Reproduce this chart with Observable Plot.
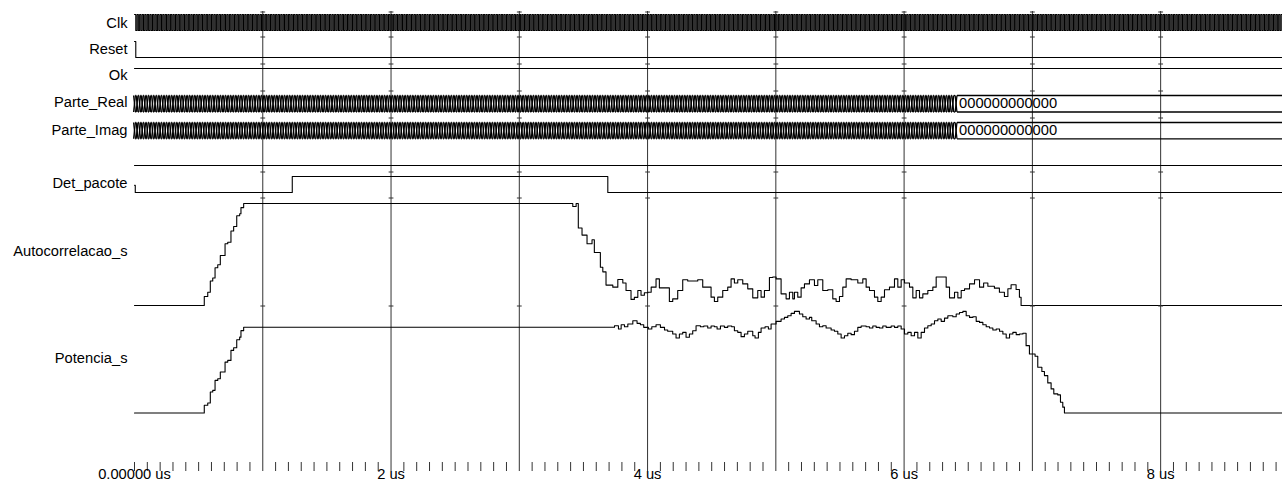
<!DOCTYPE html>
<html><head><meta charset="utf-8">
<script src="https://cdn.jsdelivr.net/npm/d3@7"></script>
<script src="https://cdn.jsdelivr.net/npm/@observablehq/plot@0.6"></script>
<style>
html,body{margin:0;padding:0;background:#fff;}
#chart{width:1282px;height:485px;overflow:hidden;background:#fff;}
#chart svg{display:block;overflow:visible;}
</style></head><body><div id="chart"></div>
<script>
// ---------- data (times in microseconds) ----------
const timeEnd = 8.95;
const gridTimes = [1, 2, 3, 4, 5, 6, 7, 8];
const axisLabelTimes = [0, 2, 4, 6, 8];
const axisLabels = ["0.00000 us", "2 us", "4 us", "6 us", "8 us"];
const minorTickStep = 0.1;

const clockPeriod = 0.02;
const resetT = [0, 0.01], resetV = [1, 0];
const okT = [0], okV = [1];
const unnamedT = [0], unnamedV = [0];
const busPeriod = 0.02, busSettleTime = 6.405, busFinalValue = "000000000000";
const detT = [0, 0.006, 1.23, 3.69], detV = [0.45, 0, 1, 0];

const autoT = [0, 0.544, 0.571, 0.591, 0.610, 0.628, 0.649, 0.669, 0.706, 0.727, 0.752, 0.773, 0.797, 0.820, 0.830, 0.851,
  3.417, 3.443, 3.460, 3.489, 3.528, 3.567, 3.585, 3.632, 3.651, 3.676, 3.729, 3.768, 3.807, 3.832, 3.871, 3.897, 3.924, 3.949, 3.975,
  4.002, 4.028, 4.066, 4.092, 4.170, 4.196, 4.235, 4.274, 4.313, 4.391, 4.430, 4.495, 4.521, 4.547, 4.586, 4.625, 4.651, 4.677, 4.703, 4.742,
  4.781, 4.820, 4.859, 4.885, 4.911, 4.950, 4.976, 5.002, 5.041, 5.080, 5.106, 5.132, 5.145, 5.171, 5.197, 5.223, 5.262, 5.301, 5.327, 5.366,
  5.405, 5.444, 5.470, 5.496, 5.522, 5.548, 5.587, 5.639, 5.678, 5.704, 5.730, 5.769, 5.795, 5.821, 5.847, 5.886, 5.925, 5.951, 5.977, 6.003,
  6.042, 6.068, 6.094, 6.120, 6.146, 6.185, 6.224, 6.250, 6.328, 6.354, 6.393, 6.419, 6.445, 6.471, 6.510, 6.549, 6.588, 6.620, 6.653, 6.704,
  6.743, 6.782, 6.809, 6.834, 6.873, 6.899, 6.912];
const autoV = [0, 8.8, 13, 24, 27, 37, 40, 49, 60.5, 62, 73, 77.5, 88, 90, 96, 100,
  97, 100, 76, 69, 60.5, 64.4, 52, 37.5, 33, 20, 18, 25.5, 22, 14.7, 6, 8, 14.7, 10, 12.5,
  13, 18, 26.1, 17.3, 3.9, 6.5, 14.7, 25.2, 24, 25.2, 18, 8.2, 3.9, 8.2, 14.7, 18, 26.1, 22, 25.2, 21.2,
  16.3, 7.5, 14.7, 8.2, 14.7, 27.5, 28, 26.1, 11.4, 6.5, 13, 6.5, 13, 8.2, 17.3, 21.2, 25.2, 19.6, 25.2, 14.7,
  15.4, 6.5, 3.9, 8.8, 18, 26.1, 25.2, 22, 26.1, 18, 14.7, 8.2, 3.9, 8.2, 15.4, 18, 26.1, 18, 25.2, 22,
  18, 7.5, 14.7, 7.5, 11.4, 14.7, 18, 28, 18, 7.5, 13, 7.5, 14.7, 16.3, 21.2, 25.2, 18, 22, 18.9, 17,
  13, 8.8, 16.4, 20.3, 15.7, 8.1, 0];

const potT = [0, 0.544, 0.571, 0.591, 0.610, 0.628, 0.649, 0.669, 0.706, 0.727, 0.752, 0.773, 0.797, 0.820, 0.830, 0.851,
  3.742, 3.773, 3.794, 3.820, 3.846, 3.885, 3.918, 3.944, 3.970, 4.006, 4.033, 4.066, 4.100, 4.132, 4.157, 4.196, 4.222, 4.248, 4.274, 4.300,
  4.326, 4.352, 4.378, 4.412, 4.438, 4.469, 4.495, 4.521, 4.542, 4.568, 4.599, 4.625, 4.656, 4.677, 4.703, 4.729, 4.755, 4.781, 4.820, 4.838,
  4.864, 4.885, 4.916, 4.942, 4.963, 5.002, 5.041, 5.067, 5.093, 5.119, 5.145, 5.184, 5.210, 5.236, 5.262, 5.280, 5.314, 5.340, 5.366, 5.392,
  5.431, 5.457, 5.483, 5.509, 5.535, 5.561, 5.587, 5.613, 5.639, 5.665, 5.704, 5.730, 5.756, 5.782, 5.808, 5.834, 5.860, 5.899, 5.925, 5.951,
  5.977, 6.003, 6.029, 6.055, 6.081, 6.107, 6.133, 6.159, 6.185, 6.211, 6.237, 6.263, 6.289, 6.315, 6.341, 6.380, 6.406, 6.432, 6.458, 6.484,
  6.510, 6.536, 6.562, 6.588, 6.614, 6.640, 6.666, 6.692, 6.718, 6.744, 6.770, 6.796, 6.822, 6.848, 6.874, 6.900, 6.926, 6.951, 6.977, 7.021,
  7.042, 7.074, 7.094, 7.120, 7.146, 7.167, 7.198, 7.219, 7.237, 7.250];
const potV = [0, 9, 11.6, 24.4, 26.4, 38, 40, 47.7, 59.3, 61.3, 73, 76, 85.3, 88.4, 96, 100,
  101.7, 97.9, 102.9, 100.6, 103.7, 107.6, 104.5, 102.9, 99.8, 97.9, 100.6, 102.9, 99.8, 96.7, 95.2, 92.1, 87.4, 92.1, 94.0, 88.2,
  92.1, 95.9, 101.7, 100.6, 101.4, 99.0, 101.4, 100.6, 97.9, 101.4, 99.8, 101.4, 100.6, 95.9, 94.0, 89.0, 92.1, 95.2, 90.1, 87.4,
  94.0, 99.0, 100.6, 97.9, 103.7, 106.8, 109.5, 111.4, 113.4, 116.1, 118.4, 115.3, 112.2, 109.5, 111.4, 107.6, 103.7, 100.6, 101.7, 99.0,
  96.7, 95.2, 92.1, 87.4, 90.1, 92.9, 91.3, 95.2, 99.8, 101.4, 100.6, 99.0, 101.4, 99.8, 99.0, 101.4, 99.8, 101.4, 99.8, 101.4,
  97.9, 92.1, 94.0, 90.1, 94.0, 87.4, 94.0, 99.0, 101.7, 103.7, 107.6, 109.5, 106.8, 110.6, 113.4, 112.2, 115.3, 117.2, 118.4, 113.4,
  111.4, 112.2, 106.8, 105.6, 102.9, 100.6, 99.0, 96.7, 97.9, 95.2, 92.1, 87.4, 92.1, 94.0, 91.3, 92.1, 92.9, 78.5, 68.8, 66.1,
  53.3, 48.3, 43.6, 35.1, 28.1, 22.3, 21.1, 12.6, 6.8, 0];

// ---------- helpers ----------
function steps(T, V) {
  const pts = T.map((t, i) => ({t, v: V[i]}));
  pts.push({t: timeEnd, v: V[V.length - 1]});
  return pts;
}
const clockData = d3.range(0, timeEnd, clockPeriod / 2).map((t, i) => ({t, v: i % 2 === 0 ? 1 : 0}));
clockData.push({t: timeEnd, v: clockData[clockData.length - 1].v});

const busHalf = 0.007;
function busSegments() {
  const trans = d3.range(0, busSettleTime - busPeriod / 2, busPeriod).concat([busSettleTime]);
  const segs = [];
  trans.forEach((t, i) => {
    segs.push({x1: t - busHalf, y1: 0, x2: t + busHalf, y2: 1}, {x1: t - busHalf, y1: 1, x2: t + busHalf, y2: 0});
    const next = i < trans.length - 1 ? trans[i + 1] - busHalf : timeEnd;
    if (next > t + busHalf) {
      segs.push({x1: t + busHalf, y1: 1, x2: next, y2: 1}, {x1: t + busHalf, y1: 0, x2: next, y2: 0});
    }
  });
  return segs;
}
const hDash = {draw(ctx, size) { const r = Math.sqrt(size / Math.PI); ctx.moveTo(-r, 0); ctx.lineTo(r, 0); }};

const FONT = "'Liberation Sans', Arial, Helvetica, sans-serif";
const FS = 14.7;
const GRID = "#333";
const W = 1282, ML = 134;

function stepLine(T, V) {
  return Plot.line(steps(T, V), {x: "t", y: "v", curve: "step-after", stroke: "#000", strokeWidth: 1.1});
}
function busMarks() {
  return [
    Plot.link(busSegments(), {x1: "x1", y1: "y1", x2: "x2", y2: "y2", stroke: "#000", strokeWidth: 1.3}),
    Plot.text([busFinalValue], {x: busSettleTime, y: 0.5, text: d => d, textAnchor: "start", dx: 3, fontSize: FS, fill: "#000"})
  ];
}

// ---------- lane layout ----------
const lanes = [
  {name: "Clk", height: 25, domain: [0, 1], range: [19, 3], dash: true, dy: -1, marks: () => [Plot.line(clockData, {x: "t", y: "v", curve: "step-after", stroke: "#000", strokeWidth: 1.1})]},
  {name: "Reset", height: 27, domain: [0, 1], range: [21, 5], dash: true, dy: -1, marks: () => [stepLine(resetT, resetV)]},
  {name: "Ok", height: 27, domain: [0, 1], range: [21, 5], dash: true, dy: -1.3, marks: () => [stepLine(okT, okV)]},
  {name: "Parte_Real", height: 27, domain: [0, 1], range: [21.5, 5], dash: true, dy: -1.5, marks: busMarks},
  {name: "Parte_Imag", height: 27, domain: [0, 1], range: [21.3, 5], dash: true, dy: -0.5, marks: busMarks},
  {name: "", height: 27, domain: [0, 1], range: [21, 5], dash: false, dy: 0, marks: () => [stepLine(unnamedT, unnamedV)]},
  {name: "Det_pacote", height: 26, domain: [0, 1], range: [21, 5], dash: true, dy: -1.5, marks: () => [stepLine(detT, detV)]},
  {name: "Autocorrelacao_s", height: 108, domain: [0, 100], range: [108, 6], dash: true, dy: 0, marks: () => [stepLine(autoT, autoV)]},
  {name: "Potencia_s", height: 157, domain: [0, 100], range: [107.5, 21.7], dash: true, dy: -25.5, marks: () => [stepLine(potT, potV)]}
];

const chart = document.getElementById("chart");
const topSpacer = document.createElement("div");
topSpacer.style.height = "11px";
chart.appendChild(topSpacer);

const baseStyle = {fontFamily: FONT, fontSize: FS + "px", background: "transparent", overflow: "visible", color: "#000"};

for (const lane of lanes) {
  const marks = [
    Plot.ruleX(gridTimes, {x: d => d, stroke: GRID, strokeWidth: 1}),
    ...lane.marks()
  ];
  if (lane.dash) marks.push(Plot.dot(gridTimes, {x: d => d, frameAnchor: "top", dy: 0.5, symbol: hDash, r: 2.4, fill: "none", stroke: GRID, strokeWidth: 1}));
  if (lane.name) marks.push(Plot.text([lane.name], {text: d => d, frameAnchor: "left", textAnchor: "end", dx: -7, dy: lane.dy, fontSize: FS, fill: "#000"}));
  chart.appendChild(Plot.plot({
    width: W, height: lane.height,
    marginTop: 0, marginBottom: 0, marginLeft: ML, marginRight: 0,
    x: {domain: [0, timeEnd], axis: null},
    y: {domain: lane.domain, range: lane.range, axis: null},
    style: baseStyle,
    marks
  }));
}

// ---------- time axis ----------
const minorTicks = d3.range(0, timeEnd, minorTickStep);
chart.appendChild(Plot.plot({
  width: W, height: 23,
  marginTop: 0, marginBottom: 0, marginLeft: ML, marginRight: 0,
  x: {domain: [0, timeEnd], axis: null},
  style: baseStyle,
  marks: [
    Plot.ruleX(minorTicks, {x: d => d, insetBottom: 14, stroke: GRID, strokeWidth: 1}),
    Plot.text(axisLabelTimes, {x: d => d, text: (d, i) => axisLabels[i], frameAnchor: "bottom", dy: -7, fontSize: FS, fill: "#000"})
  ]
}));
</script></body></html>
